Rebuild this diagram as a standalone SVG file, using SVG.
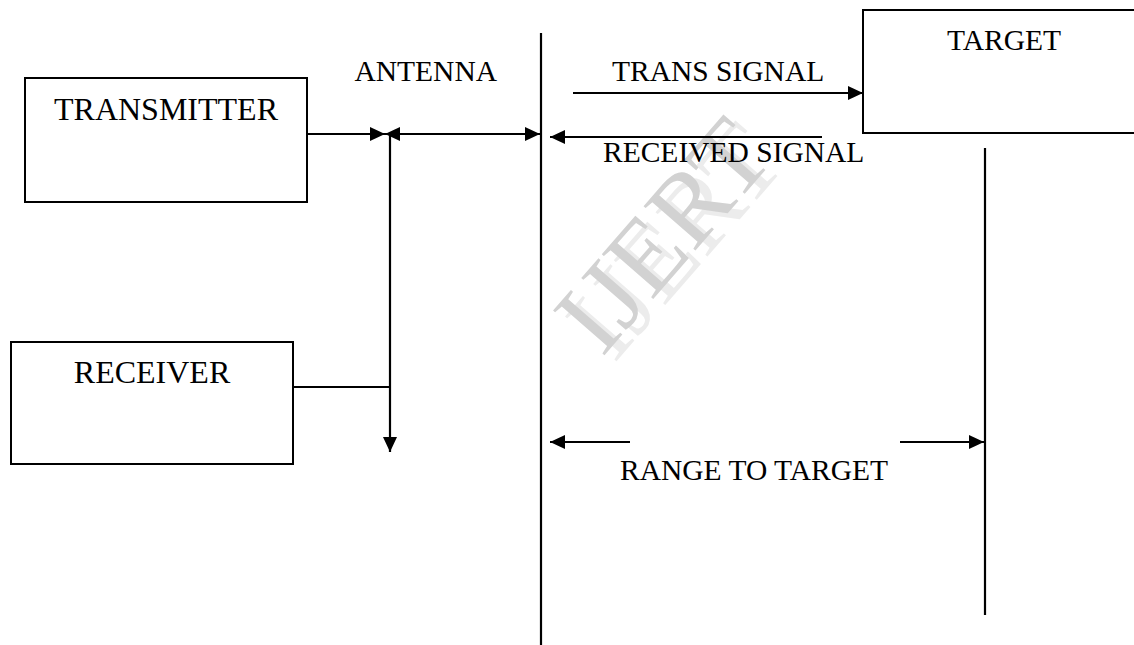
<svg xmlns="http://www.w3.org/2000/svg" width="1134" height="645" viewBox="0 0 1134 645">
<style>
.box{fill:#fff;stroke:#000;stroke-width:2}
.ln{stroke:#000;stroke-width:2.2;fill:none}
.lbl{font-family:"Liberation Serif","Times New Roman",serif;fill:#000}
.big{font-size:32px}
.sm{font-size:29.5px}
.wm{font-family:"Liberation Serif","Times New Roman",serif;font-size:104px}
</style>
<defs>
<marker id="ah" markerUnits="userSpaceOnUse" markerWidth="16" markerHeight="16" refX="15" refY="7" orient="auto-start-reverse">
<path d="M0,0 L15,7 L0,14 Z" fill="#000"/>
</marker>
</defs>
<rect width="1134" height="645" fill="#fff"/>
<g id="watermark">
<text class="wm" fill="#ececec" transform="translate(614,364) rotate(-49)">IJERT</text>
<text class="wm" fill="#d2d2d2" transform="translate(602,358) rotate(-49)">IJERT</text>
</g>
<g id="transmitter">
<rect class="box" x="25" y="78" width="282" height="124"/>
<text class="lbl big" x="166" y="120" text-anchor="middle">TRANSMITTER</text>
</g>
<g id="receiver">
<rect class="box" x="11" y="342" width="282" height="122"/>
<text class="lbl big" x="152" y="383" text-anchor="middle">RECEIVER</text>
</g>
<g id="target">
<rect class="box" x="863" y="10" width="300" height="123"/>
<text class="lbl sm" x="947" y="50">TARGET</text>
</g>
<g id="labels">
<text class="lbl sm" x="497" y="81" text-anchor="end">ANTENNA</text>
<text class="lbl sm" x="612" y="81">TRANS SIGNAL</text>
<text class="lbl sm" x="603" y="162">RECEIVED SIGNAL</text>
<text class="lbl sm" x="620" y="480">RANGE TO TARGET</text>
</g>
<g id="connectors">
<line class="ln" x1="541" y1="33" x2="541" y2="645"/>
<line class="ln" x1="985" y1="148" x2="985" y2="615"/>
<line class="ln" x1="307" y1="134" x2="385" y2="134" marker-end="url(#ah)"/>
<line class="ln" x1="385" y1="134" x2="540" y2="134" marker-start="url(#ah)" marker-end="url(#ah)"/>
<line class="ln" x1="390" y1="134" x2="390" y2="452" marker-end="url(#ah)"/>
<line class="ln" x1="293" y1="387" x2="390" y2="387"/>
<line class="ln" x1="573" y1="93" x2="863" y2="93" marker-end="url(#ah)"/>
<line class="ln" x1="822" y1="137" x2="550" y2="137" marker-end="url(#ah)"/>
<line class="ln" x1="630" y1="442" x2="550" y2="442" marker-end="url(#ah)"/>
<line class="ln" x1="900" y1="442" x2="984" y2="442" marker-end="url(#ah)"/>
</g>
</svg>
